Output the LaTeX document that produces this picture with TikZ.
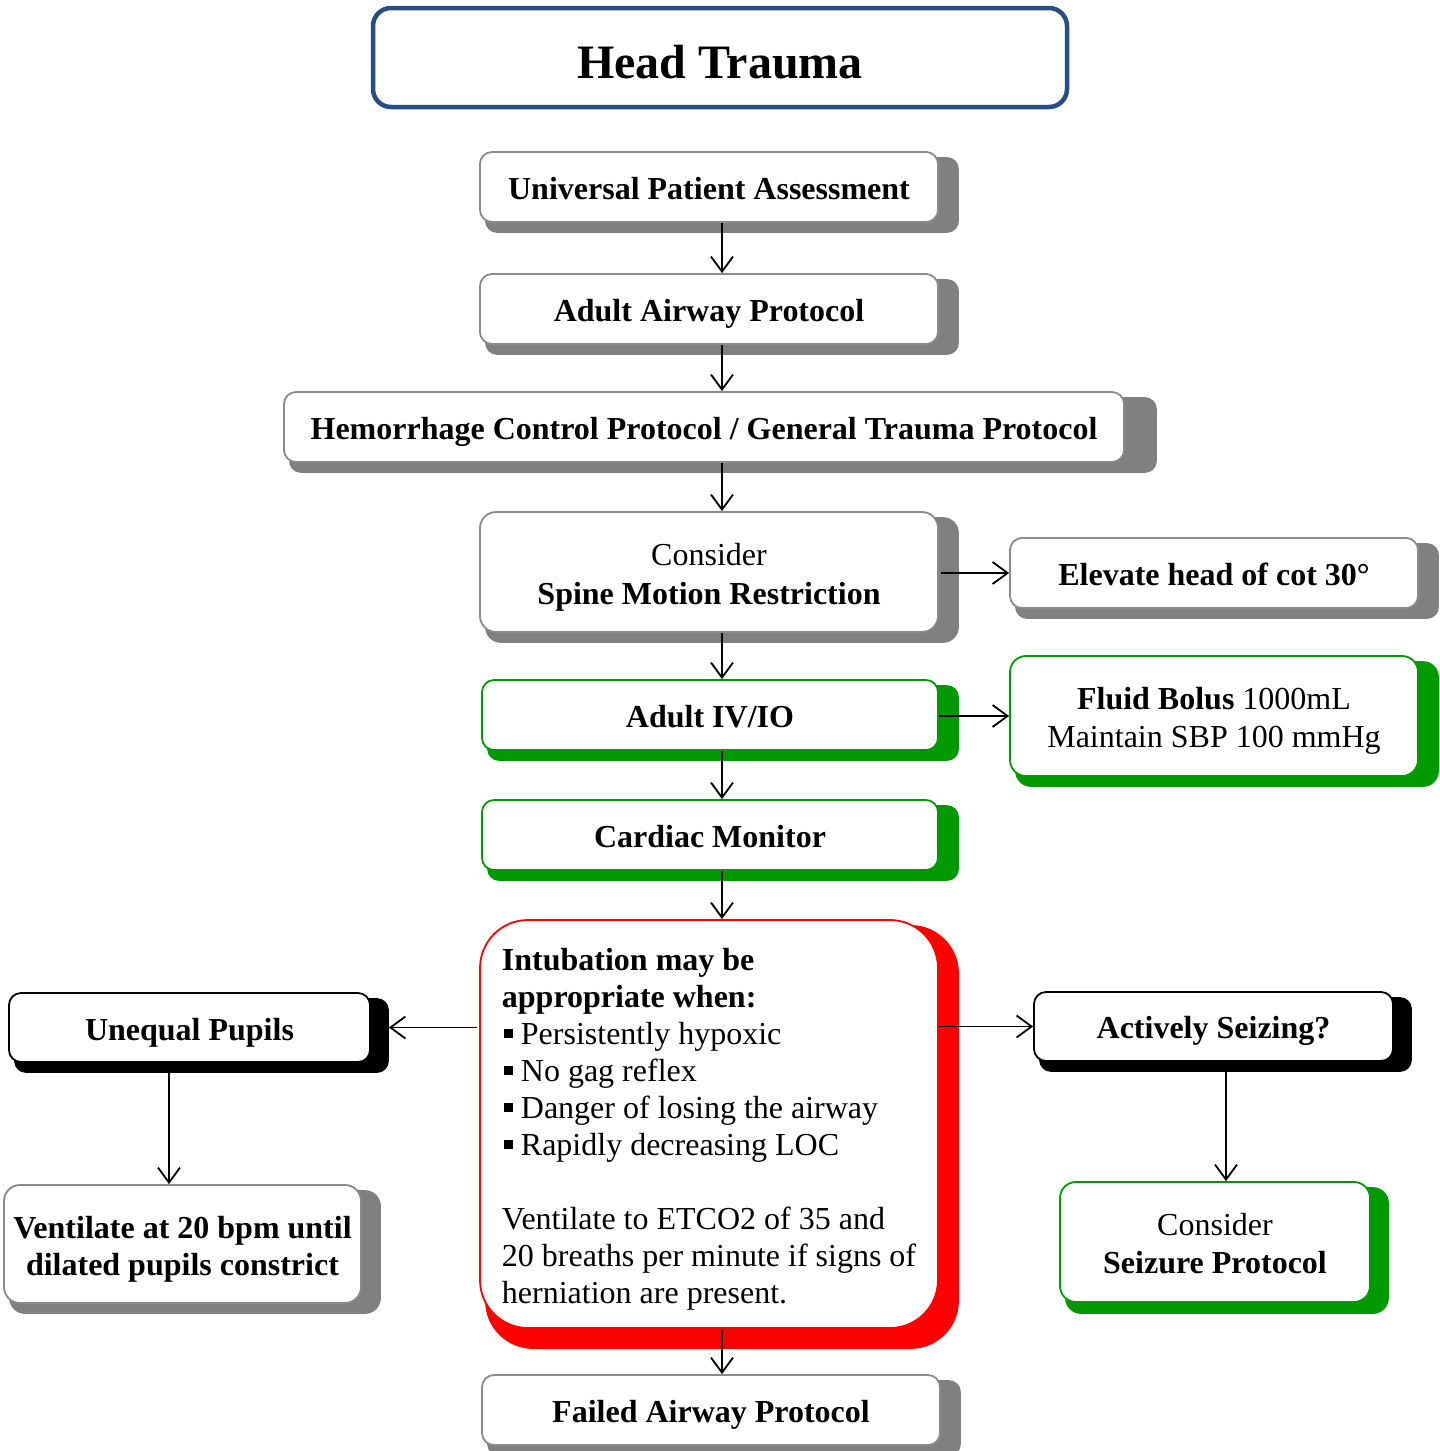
\documentclass[tikz,border=0pt]{standalone}
\usepackage{fontspec}
\setmainfont{Liberation Serif}
\usetikzlibrary{arrows.meta,calc,backgrounds}
\definecolor{shgray}{HTML}{808080}
\definecolor{bdgray}{HTML}{8A8A8A}
\definecolor{grn}{HTML}{009900}
\definecolor{titleblue}{HTML}{274E82}
\newcommand\sqb{\hspace*{2pt}\rule[6pt]{9pt}{9pt}\hspace{8pt}}
\newcommand\tp{\rule{0pt}{32pt}}
\newcommand\bt{\rule[-7pt]{0pt}{7pt}}
\newcommand\mkshadow[5]{\fill[#2, rounded corners=#3] ([shift={(6,6)}]#1.north west) rectangle ([shift={(#4,#5)}]#1.south east);}
\tikzset{
  box/.style={draw, fill=white, rounded corners=12pt, line width=1.8pt, inner sep=0pt, align=center, font=\fontsize{32}{38}\selectfont},
  graybox/.style={box, draw=bdgray},
  greenbox/.style={box, draw=grn},
  blackbox/.style={box, draw=black},
  redbox/.style={box, draw=red},
  arr/.style={line width=1.8pt, -{Straight Barb[length=15pt,width=22pt,line width=1.8pt]}}
}
\begin{document}
\begin{tikzpicture}[x=1pt,y=-1pt]
\useasboundingbox (0,0) rectangle (1440,1451);
\node[box, draw=titleblue, line width=4.5pt, rounded corners=18pt, minimum width=694, minimum height=99, font=\fontsize{48}{56}\selectfont\bfseries] (title) at (720,57.5) {\rule[-7pt]{0pt}{55pt}Head Trauma};

\node[graybox, minimum width=458, minimum height=70] (upa) at (709,187) {\tp\textbf{Universal Patient Assessment}\bt};
\node[graybox, minimum width=458, minimum height=70] (aap) at (709,309) {\tp\textbf{Adult Airway Protocol}\bt};
\node[graybox, minimum width=840, minimum height=70] (hem) at (704,427) {\tp\textbf{Hemorrhage Control Protocol / General Trauma Protocol}\bt};
\node[graybox, minimum width=458, minimum height=120, rounded corners=16pt, font=\fontsize{32}{39}\selectfont] (smr) at (709,572) {\tp Consider\\\textbf{Spine Motion Restriction}\bt};
\node[graybox, minimum width=408, minimum height=70] (elev) at (1214,573) {\tp\textbf{Elevate head of cot 30°}\bt};
\node[greenbox, minimum width=456, minimum height=70] (iv) at (710,715) {\tp\textbf{Adult IV/IO}\bt};
\node[greenbox, minimum width=408, minimum height=120, rounded corners=16pt] (fluid) at (1214,716) {\tp\textbf{Fluid Bolus} 1000mL\\Maintain SBP 100 mmHg\bt};
\node[greenbox, minimum width=456, minimum height=70] (cm) at (710,835) {\tp\textbf{Cardiac Monitor}\bt};
\node[redbox, minimum width=458, minimum height=408, rounded corners=48pt, align=left, font=\fontsize{32}{37}\selectfont] (intub) at (709,1124) {\tp\textbf{Intubation may be}\\\textbf{appropriate when:}\\\sqb Persistently hypoxic\\\sqb No gag reflex\\\sqb Danger of losing the airway\\\sqb Rapidly decreasing LOC\\[37pt]Ventilate to ETCO2 of 35 and\\20 breaths per minute if signs of\\herniation are present.\bt};
\node[blackbox, minimum width=361, minimum height=69] (up) at (189.5,1027.5) {\tp\textbf{Unequal Pupils}\bt};
\node[graybox, minimum width=357, minimum height=118, rounded corners=16pt, font=\fontsize{32}{37}\selectfont] (vent) at (182.5,1244) {\tp\textbf{Ventilate at 20 bpm until}\\\textbf{dilated pupils constrict}\bt};
\node[blackbox, minimum width=359, minimum height=69] (act) at (1213.5,1026.5) {\tp\textbf{Actively Seizing?}\bt};
\node[greenbox, minimum width=310, minimum height=120, rounded corners=16pt] (seiz) at (1215,1242) {\tp Consider\\\textbf{Seizure Protocol}\bt};
\node[graybox, minimum width=458, minimum height=70] (fap) at (711,1410) {\tp\textbf{Failed Airway Protocol}\bt};

\begin{pgfonlayer}{background}
\mkshadow{upa}{shgray}{12pt}{20}{10}
\mkshadow{aap}{shgray}{12pt}{20}{10}
\mkshadow{hem}{shgray}{12pt}{32}{10}
\mkshadow{smr}{shgray}{16pt}{20}{10}
\mkshadow{elev}{shgray}{12pt}{20}{10}
\mkshadow{iv}{grn}{12pt}{20}{10}
\mkshadow{fluid}{grn}{16pt}{20}{10}
\mkshadow{cm}{grn}{12pt}{20}{10}
\mkshadow{intub}{red}{48pt}{20}{20}
\mkshadow{up}{black}{12pt}{18}{10}
\mkshadow{vent}{shgray}{16pt}{19}{10}
\mkshadow{act}{black}{12pt}{18}{10}
\mkshadow{seiz}{grn}{16pt}{18}{11}
\mkshadow{fap}{shgray}{12pt}{20}{10}
\end{pgfonlayer}

\coordinate (ax) at (722,0);
\coordinate (vx) at (169,0);
\coordinate (sx) at (1226,0);
\draw[arr] (upa.south -| ax) -- (aap.north -| ax);
\draw[arr] (aap.south -| ax) -- (hem.north -| ax);
\draw[arr] (hem.south -| ax) -- (smr.north -| ax);
\draw[arr] (smr.south -| ax) -- (iv.north -| ax);
\draw[arr] (iv.south -| ax) -- (cm.north -| ax);
\draw[arr] (cm.south -| ax) -- (intub.north -| ax);
\draw[arr] (intub.south -| ax) -- (fap.north -| ax);
\draw[arr] ([xshift=2]smr.east |- elev.west) -- (elev.west);
\draw[arr] (iv.east |- fluid.west) -- (fluid.west);
\draw[arr] ([xshift=-2]intub.west |- up.east) -- ([xshift=18]up.east);
\draw[arr] (intub.east |- act.west) -- (act.west);
\draw[arr] (up.south -| vx) -- (vent.north -| vx);
\draw[arr] (act.south -| sx) -- (seiz.north -| sx);
\end{tikzpicture}
\end{document}
